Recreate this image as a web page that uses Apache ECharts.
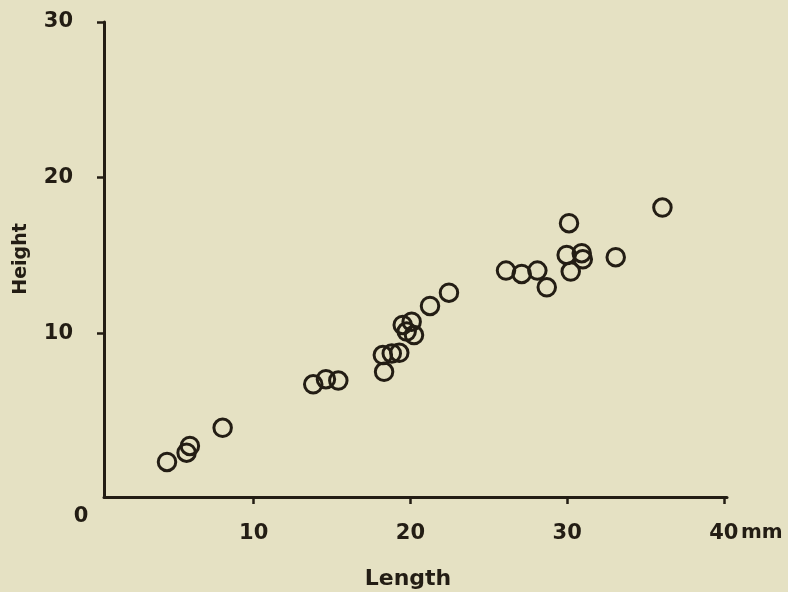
<!DOCTYPE html>
<html>
<head>
<meta charset="utf-8">
<script src="https://cdn.jsdelivr.net/npm/echarts@6/dist/echarts.min.js"></script>
<style>
html,body{margin:0;padding:0;background:#e5e1c3;}
#chart{width:788px;height:592px;}
</style>
</head>
<body>
<div id="chart"></div>
<script>
// Length (mm) values of each specimen
var lengths = [4.47, 5.72, 5.93, 8.02, 13.80, 14.61, 15.40, 18.24, 18.81, 19.29, 18.32,
               19.51, 20.08, 19.76, 20.23, 21.25, 22.46, 26.10, 27.10, 28.10, 28.70,
               30.12, 29.97, 30.93, 31.00, 30.23, 33.10, 36.08];
// Height values of each specimen
var heights = [1.72, 2.32, 2.75, 3.92, 6.71, 7.04, 6.95, 8.59, 8.70, 8.74, 7.52,
               10.53, 10.74, 10.10, 9.88, 11.75, 12.60, 14.02, 13.81, 14.02, 12.95,
               17.07, 15.03, 15.14, 14.75, 13.96, 14.88, 18.07];
var xTicks = [10, 20, 30, 40];
var yTicks = [10, 20, 30];

var ink = '#231d14';
var fontFam = '"DejaVu Sans", sans-serif';

var pts = lengths.map(function (v, i) { return [v, heights[i]]; });

var chart = echarts.init(document.getElementById('chart'));
chart.setOption({
  backgroundColor: '#e5e1c3',
  animation: false,
  grid: { left: 104, right: 61, top: 22, bottom: 95, containLabel: false },
  xAxis: {
    type: 'value', min: 0.45, max: 40.2,
    splitLine: { show: false },
    axisLine: { show: true, onZero: false, lineStyle: { color: ink, width: 3 } },
    axisTick: { show: true, customValues: xTicks, length: 7, lineStyle: { color: ink, width: 2.5 } },
    axisLabel: { customValues: xTicks, margin: 26, color: ink, fontSize: 21, fontWeight: 'bold', fontFamily: fontFam }
  },
  yAxis: {
    type: 'value', min: -0.53, max: 30,
    splitLine: { show: false },
    axisLine: { show: true, onZero: false, lineStyle: { color: ink, width: 3 } },
    axisTick: { show: true, customValues: yTicks, length: 7, lineStyle: { color: ink, width: 2.5 } },
    axisLabel: { customValues: yTicks, margin: 31, color: ink, fontSize: 21, fontWeight: 'bold', fontFamily: fontFam }
  },
  graphic: [
    { type: 'text', x: 81, y: 517, style: { text: '0', fill: ink, fontSize: 21, fontWeight: 'bold', fontFamily: fontFam, align: 'center', verticalAlign: 'middle' } },
    { type: 'text', x: 741, y: 533, style: { text: 'mm', fill: ink, fontSize: 20, fontWeight: 'bold', fontFamily: fontFam, align: 'left', verticalAlign: 'middle' } },
    { type: 'text', x: 408, y: 579, style: { text: 'Length', fill: ink, fontSize: 22, fontWeight: 'bold', fontFamily: fontFam, align: 'center', verticalAlign: 'middle' } },
    { type: 'text', x: 21, y: 259, rotation: Math.PI / 2, style: { text: 'Height', fill: ink, fontSize: 19, fontWeight: 'bold', fontFamily: fontFam, align: 'center', verticalAlign: 'middle' } }
  ],
  series: [{
    type: 'scatter',
    data: pts,
    symbol: 'circle',
    symbolSize: 17.5,
    itemStyle: { color: 'rgba(0,0,0,0)', borderColor: ink, borderWidth: 3, opacity: 1 },
    emphasis: { disabled: true }
  }]
});
</script>
</body>
</html>
